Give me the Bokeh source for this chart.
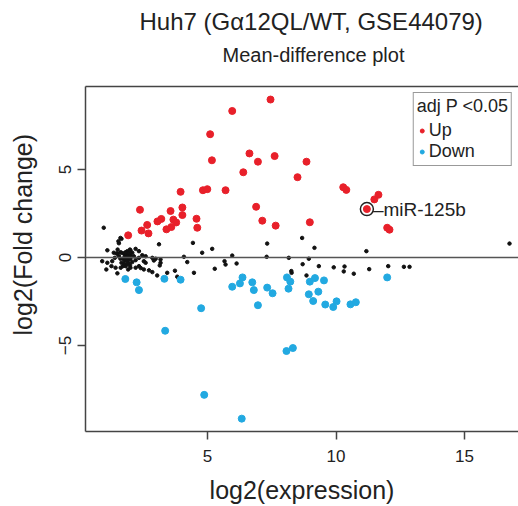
from bokeh.plotting import figure
from bokeh.models import Range1d, LinearAxis, Title, Legend, LegendItem, FixedTicker, Span
from bokeh.embed import file_html
from bokeh.resources import INLINE
from bokeh.core.properties import value

title_main = "Huh7 (Gα12QL/WT, GSE44079)"
title_sub = "Mean-difference plot"
x_label = "log2(expression)"
y_label = "log2(Fold change)"
x_ticks = [5, 10, 15]
y_ticks = [-5, 0, 5]
legend_title = "adj P <0.05"
series_names = ["Up", "Down"]

up_x = [7.45, 5.96, 5.10, 5.17, 6.63, 6.96, 7.61, 8.85, 8.50, 6.39, 3.95, 4.82, 4.99, 5.70,
        10.28, 10.40, 11.65, 11.49, 11.20, 6.89, 7.13, 7.65, 8.98, 11.99, 12.08, 2.37, 4.02,
        4.02, 4.57, 4.60, 3.56, 3.20, 3.05, 3.67, 3.78, 3.40, 3.59, 2.65, 2.43, 2.70, 1.91]
up_y = [8.97, 8.32, 7.00, 5.52, 5.91, 5.44, 5.76, 5.44, 4.56, 4.84, 3.73, 3.82, 3.88, 3.82,
        3.99, 3.84, 3.56, 3.30, 2.75, 2.88, 2.09, 1.81, 2.00, 1.69, 1.58, 2.71, 2.84,
        2.41, 2.20, 1.69, 2.64, 2.19, 2.05, 2.15, 1.99, 1.60, 1.73, 1.85, 1.53, 1.37, 1.26]

down_x = [1.80, 2.24, 2.33, 3.32, 3.95, 4.75, 3.35, 4.87, 6.33, 5.96, 6.26, 6.36, 6.74, 6.80,
          6.96, 7.32, 7.53, 8.09, 8.22, 8.15, 8.07, 8.32, 8.98, 9.18, 9.53, 8.94, 9.31, 9.11,
          9.58, 9.89, 10.02, 10.56, 10.77, 11.99]
down_y = [-1.22, -1.41, -1.85, -1.21, -1.26, -2.88, -4.16, -7.80, -9.15, -1.66, -1.47, -1.13,
          -1.41, -1.85, -2.71, -1.71, -2.03, -1.13, -1.37, -1.77, -5.31, -5.14, -1.37, -1.17,
          -1.30, -2.09, -1.94, -2.47, -2.67, -2.81, -2.49, -2.66, -2.54, -1.13]

ns_x = [0.96, 1.55, 1.65, 1.61, 1.53, 1.50, 1.10, 1.35, 1.88, 1.98, 2.20, 2.33,
        1.65, 1.74, 1.81, 1.88, 1.94, 1.78, 1.84, 1.91, 1.71, 1.78, 1.88, 1.94, 2.00, 1.65,
        1.74, 1.84, 1.94, 1.71, 2.07, 1.55, 1.49, 1.39, 1.61, 2.00, 2.07,
        0.90, 1.10, 1.29, 1.06, 1.26, 1.49, 1.62, 1.91, 1.98, 2.13, 2.20, 2.33, 2.46, 2.52,
        2.59, 2.33, 2.20, 2.52, 2.72, 2.85, 2.98, 3.11, 2.91, 3.17, 3.04, 3.43, 3.73, 3.17,
        4.08, 4.21, 4.43, 4.47, 4.79, 1.42, 1.81, 2.00, 2.40, 2.85, 3.14, 3.82,
        5.18, 5.28, 5.66, 5.70, 5.96, 6.13, 7.32, 7.30, 8.16, 8.26, 8.27, 8.68, 8.70, 8.94,
        8.85, 9.16, 9.33, 9.91, 10.33, 10.30, 10.69, 11.29, 12.03, 12.64, 12.86, 11.18, 16.75,
        1.46, 1.61, 1.81, 2.00, 2.59]
ns_y = [1.69, 0.81, 1.06, 1.11, 0.92, 0.45, 0.41, 0.27, 0.36, 0.45, 0.49, 0.36,
        0.27, 0.23, 0.30, 0.17, 0.23, 0.07, -0.02, 0.04, -0.07, -0.17, -0.21, -0.11, -0.07, -0.30,
        -0.34, -0.40, -0.34, -0.49, -0.26, 0.07, 0.23, -0.02, -0.07, 0.11, 0.27,
        -0.21, -0.30, -0.21, -0.68, -0.49, -0.90, -0.58, -0.68, -0.45, 0.07, -0.15, -0.02, 0.13, -0.21,
        -0.30, -0.49, -0.58, -0.68, -0.73, -0.02, -0.07, 0.75, -0.17, -0.11, -1.02, -0.87, -0.75, -0.30,
        0.04, -0.26, 0.83, -0.87, 0.27, -0.58, -0.49, -0.58, -0.60, -0.83, -0.45, -1.09,
        0.49, -0.64, -0.21, -0.40, 0.11, -0.34, 0.79, 0.04, -0.02, -0.77, -0.87, 1.11, -0.38, -0.07,
        -1.02, 0.55, -0.49, -0.56, -0.51, -0.79, -0.92, -0.66, -0.49, -0.53, -0.53, 0.36, 0.79,
        0.23, 0.30, 0.27, 0.40, 0.07]

label_name = "miR-125b"
label_x = [11.20]
label_y = [2.75]

FONT = "Liberation Sans"
TXT = "#222222"
AX = "#444444"
RED = "#E8202A"
BLUE = "#22A9E1"
NBSP = "\u00a0"

p = figure(width=518, height=506, output_backend="svg", toolbar_location=None, title=None,
           x_range=Range1d(0.25, 17.1), y_range=Range1d(-9.88, 9.71),
           min_border_left=85, min_border_right=0, min_border_top=86, min_border_bottom=74)
p.grid.visible = False
p.outline_line_color = None
p.background_fill_color = "white"
p.border_fill_color = "white"

for ax in (p.xaxis[0], p.yaxis[0]):
    ax.minor_tick_line_color = None
    ax.major_tick_in = 0
    ax.major_tick_out = 8
    ax.major_tick_line_color = AX
    ax.major_tick_line_width = 1.5
    ax.axis_line_color = AX
    ax.axis_line_width = 1.5
    ax.major_label_text_font = FONT
    ax.major_label_text_font_size = "17px"
    ax.major_label_text_color = TXT
    ax.axis_label_text_font = FONT
    ax.axis_label_text_font_style = "normal"
    ax.axis_label_text_color = TXT

p.xaxis[0].ticker = FixedTicker(ticks=x_ticks)
p.xaxis[0].axis_label = x_label
p.xaxis[0].axis_label_text_font_size = "25px"
p.xaxis[0].major_label_standoff = 10
p.xaxis[0].axis_label_standoff = 11
p.yaxis[0].ticker = FixedTicker(ticks=y_ticks)
p.yaxis[0].axis_label = NBSP * 7 + y_label
p.yaxis[0].axis_label_text_font_size = "25px"
p.yaxis[0].major_label_orientation = "vertical"
p.yaxis[0].major_label_standoff = 6
p.yaxis[0].axis_label_standoff = 20

top = LinearAxis(ticker=FixedTicker(ticks=[]), axis_line_color=AX, axis_line_width=1.5,
                 major_tick_out=0, major_tick_in=0, minor_tick_out=0, minor_tick_in=0,
                 major_tick_line_color=None, minor_tick_line_color=None,
                 major_label_standoff=0, major_label_text_font_size="0px")
p.add_layout(top, "above")

p.add_layout(Title(text=title_sub, align="left", offset=137, standoff=42,
                   text_font=FONT, text_font_size="20px", text_font_style="normal",
                   text_color=TXT), "above")
p.add_layout(Title(text=title_main, align="left", offset=54, standoff=-28,
                   text_font=FONT, text_font_size="24px", text_font_style="normal",
                   text_color=TXT), "above")

p.add_layout(Span(location=0, dimension="width", line_color="#555555", line_width=1.5))

p.scatter(ns_x, ns_y, size=3.5, color="#111111")
up = p.scatter(up_x, up_y, size=7, fill_color=RED, line_color=RED, line_width=1)
down = p.scatter(down_x, down_y, size=7, fill_color=BLUE, line_color=BLUE, line_width=1)
p.scatter(label_x, label_y, size=13, fill_color=None, line_color="#222222", line_width=1.5)
p.text(label_x, label_y, text=["\u2013" + label_name], x_offset=6, text_baseline="middle",
       text_align="left", text_font=value(FONT), text_font_size="19px", text_color=TXT)

legend = Legend(items=[LegendItem(label=series_names[0], renderers=[up]),
                       LegendItem(label=series_names[1], renderers=[down])],
                title=legend_title, location="top_right", margin=6, padding=3,
                spacing=0, label_height=19, glyph_height=19, glyph_width=10,
                label_standoff=2, title_standoff=3,
                label_text_font=FONT, label_text_font_size="18px", label_text_color=TXT,
                title_text_font=FONT, title_text_font_size="18px", title_text_font_style="normal",
                title_text_color=TXT,
                border_line_color="#333333", border_line_width=1.5,
                background_fill_color="white", background_fill_alpha=1)
p.add_layout(legend)

open("out.html", "w").write(file_html(p, INLINE))
